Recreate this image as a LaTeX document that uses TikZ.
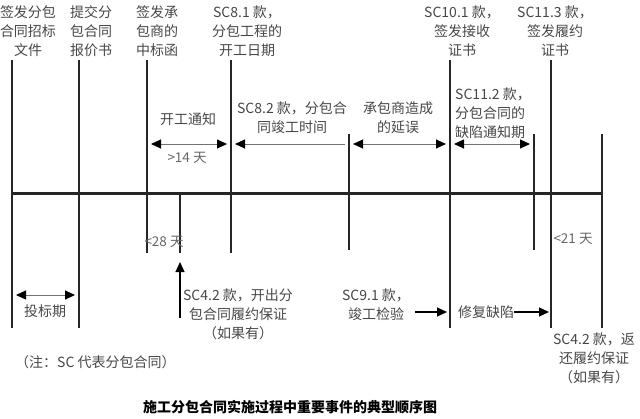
\documentclass[tikz,border=0pt]{standalone}
\usepackage{fontspec}
\setmainfont{Noto Sans CJK SC}
\usetikzlibrary{arrows.meta}
\newcommand{\lblfont}{\fontsize{14}{19}\selectfont}
\newcommand{\daysfont}{\fontsize{13.5}{16}\selectfont}
\tikzset{
  >={Triangle[length=10pt, width=9pt, color=black]},
  event/.style={line width=2pt, draw=black!85},
  timeaxis/.style={line width=3pt, draw=black!85},
  span/.style={line width=1pt, draw=black!55, <->},
  spanleft/.style={line width=1pt, draw=black!55, ->},
  pointer/.style={line width=1.3pt, draw=black, ->},
  lbl/.style={font=\lblfont, text=black!72, align=center, inner sep=0pt},
  days/.style={font=\daysfont, text=black!60, inner sep=0pt},
}
\begin{document}
\begin{tikzpicture}[x=1pt, y=-1pt]
    \useasboundingbox (0,0) rectangle (640,418);
    % define coordinates
    % time axis
    \coordinate (ax_l) at (12,193);
    \coordinate (ax_r) at (602,193);
    % event lines
    \coordinate (tender_t) at (12,60);   \coordinate (tender_b) at (12,328);
    \coordinate (quote_t) at (79,60);    \coordinate (quote_b) at (79,328);
    \coordinate (award_t) at (147,60);   \coordinate (award_b) at (147,253);
    \coordinate (bond_t) at (180,193);   \coordinate (bond_b) at (180,253);
    \coordinate (start_t) at (231,60);   \coordinate (start_b) at (231,253);
    \coordinate (finish_t) at (349,134); \coordinate (finish_b) at (349,250);
    \coordinate (taking_t) at (450,60);  \coordinate (taking_b) at (450,328);
    \coordinate (defect_t) at (534,134); \coordinate (defect_b) at (534,250);
    \coordinate (perf_t) at (551,60);    \coordinate (perf_b) at (551,328);
    \coordinate (return_t) at (602,134); \coordinate (return_b) at (602,328);
    % arrow ends
    \coordinate (notice_l) at (151,144);  \coordinate (notice_r) at (227,144);
    \coordinate (compl_l) at (235,144);   \coordinate (compl_r) at (345,144);
    \coordinate (delay_l) at (353,144);   \coordinate (delay_r) at (446,144);
    \coordinate (dnp_l) at (454,144);     \coordinate (dnp_r) at (530,144);
    \coordinate (bid_l) at (16,295);      \coordinate (bid_r) at (75,295);
    \coordinate (bondarr_b) at (180,318); \coordinate (bondarr_t) at (180,262);
    \coordinate (test_l) at (415,312);    \coordinate (test_r) at (447,312);
    \coordinate (repair_r) at (549,312);
    % draw diagram
    \draw[timeaxis] (ax_l) -- (ax_r);
    \draw[event] (tender_t) -- (tender_b);
    \draw[event] (quote_t) -- (quote_b);
    \draw[event] (award_t) -- (award_b);
    \draw[event] (bond_t) -- (bond_b);
    \draw[event] (start_t) -- (start_b);
    \draw[event] (finish_t) -- (finish_b);
    \draw[event] (taking_t) -- (taking_b);
    \draw[event] (defect_t) -- (defect_b);
    \draw[event] (perf_t) -- (perf_b);
    \draw[event] (return_t) -- (return_b);
    % periods
    \draw[span] (notice_l) -- (notice_r);
    \draw[spanleft] (compl_r) -- (compl_l);
    \draw[span] (delay_l) -- (delay_r);
    \draw[span] (dnp_l) -- (dnp_r);
    \draw[span] (bid_l) -- (bid_r);
    \draw[pointer] (bondarr_b) -- (bondarr_t);
    \draw[pointer] (test_l) -- (test_r);
    % add labels
    \node[lbl] (tender) at (28,31) {签发分包\\合同招标\\文件};
    \node[lbl] (quote) at (91,31) {提交分\\包合同\\报价书};
    \node[lbl] (award) at (157,31) {签发承\\包商的\\中标函};
    \node[lbl] (start) at (247,31) {SC8.1 款，\\分包工程的\\开工日期};
    \node[lbl] (taking) at (462,31) {SC10.1 款，\\签发接收\\证书};
    \node[lbl] (perf) at (555,31) {SC11.3 款，\\签发履约\\证书};
    \node[lbl] (notice) at (188,119) {开工通知};
    \node[days] (notice_days) at (187,158) {>14 天};
    \node[lbl] (compl) at (292,117.5) {SC8.2 款，分包合\\同竣工时间};
    \node[lbl] (delay) at (398,117.5) {承包商造成\\的延误};
    \node[lbl, align=left, anchor=west] (dnp) at (455,113) {SC11.2 款，\\分包合同的\\缺陷通知期};
    \node[days] (award_days) at (164,242) {<28 天};
    \node[days] (return_days) at (573,239) {<21 天};
    \node[lbl] (bid) at (45,311) {投标期};
    \node[lbl] (bond) at (238,314) {SC4.2 款，开出分\\包合同履约保证\\（如果有）};
    \node[lbl] (test) at (376,305) {SC9.1 款，\\竣工检验};
    \node[lbl] (repair) at (486,312) {修复缺陷};
    \draw[pointer] (repair.east) -- (repair_r);
    \node[lbl] (release) at (594,358) {SC4.2 款，返\\还履约保证\\（如果有）};
    \node[lbl, anchor=west] (note) at (15,362) {（注：SC 代表分包合同）};
    \node[lbl, text=black, font=\lblfont\bfseries] (title) at (290,407) {施工分包合同实施过程中重要事件的典型顺序图};
\end{tikzpicture}
\end{document}
